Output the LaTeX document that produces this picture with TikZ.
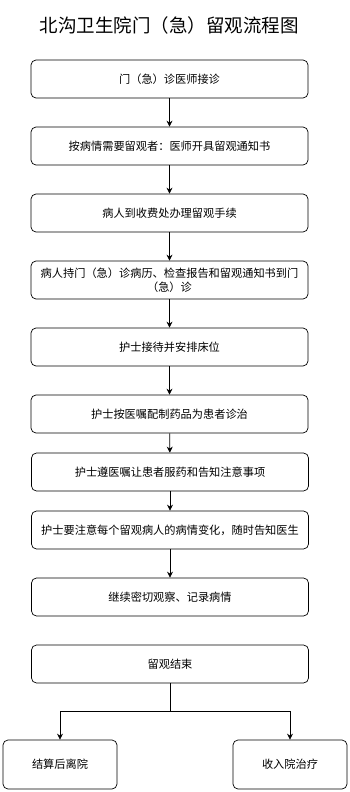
\documentclass[tikz,border=0pt]{standalone}
\usepackage{fontspec}
\setmainfont{Noto Sans CJK SC}
\usetikzlibrary{arrows.meta}
\tikzset{
  stepbox/.style={draw,rounded corners=5pt,line width=0.7pt,minimum width=277pt,minimum height=38pt,align=center,inner sep=2pt,font=\fontsize{11.2}{14}\selectfont},
  endbox/.style={stepbox,minimum width=114pt,minimum height=49pt},
  flow/.style={-{Stealth[length=6pt,width=6pt]},line width=0.7pt}
}

\begin{document}
\begin{tikzpicture}[x=1pt,y=-1pt]
\useasboundingbox (0,0) rectangle (349,792);
\node[font=\fontsize{18.5}{20}\selectfont] (title) at (169,25) {北沟卫生院门（急）留观流程图};
\node[stepbox] (doctor) at (169.5,79) {门（急）诊医师接诊};
\node[stepbox] (notice) at (169.5,146) {按病情需要留观者：医师开具留观通知书};
\node[stepbox] (register) at (169.5,213) {病人到收费处办理留观手续};
\node[stepbox] (transfer) at (169.5,280) {病人持门（急）诊病历、检查报告和留观通知书到门\\（急）诊};
\node[stepbox] (bed) at (169.5,347) {护士接待并安排床位};
\node[stepbox] (medicate) at (169.5,414) {护士按医嘱配制药品为患者诊治};
\node[stepbox] (instruct) at (170,472) {护士遵医嘱让患者服药和告知注意事项};
\node[stepbox] (monitor) at (170,530) {护士要注意每个留观病人的病情变化，随时告知医生};
\node[stepbox] (observe) at (170,597) {继续密切观察、记录病情};
\node[stepbox] (finish) at (170,664) {留观结束};
\node[endbox] (discharge) at (60,764.5) {结算后离院};
\node[endbox] (admit) at (290,764.5) {收入院治疗};
\coordinate (split) at (170,711);
\draw[flow] (doctor) -- (notice);
\draw[flow] (notice) -- (register);
\draw[flow] (register) -- (transfer);
\draw[flow] (transfer) -- (bed);
\draw[flow] (bed) -- (medicate);
\draw[flow] (medicate) -- (instruct);
\draw[flow] (instruct) -- (monitor);
\draw[flow] (monitor) -- (observe);
\draw[line width=0.7pt] (finish) -- (split);
\draw[flow] (split) -| (discharge);
\draw[flow] (split) -| (admit);
\end{tikzpicture}
\end{document}
